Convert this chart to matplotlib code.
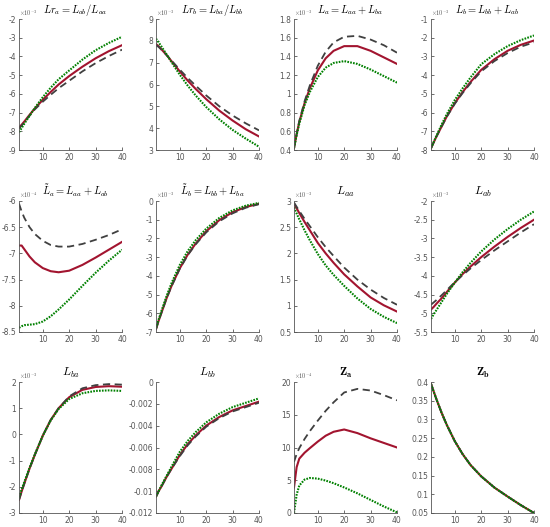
import matplotlib
matplotlib.use('Agg')
import matplotlib.pyplot as plt
from matplotlib.ticker import FuncFormatter

plt.rcParams['font.family'] = ['DejaVu Sans']
plt.rcParams['mathtext.fontset'] = 'cm'
plt.rcParams['axes.unicode_minus'] = False

x = [1, 2, 3, 5, 7, 10, 13, 16, 20, 25, 30, 35, 40]

# Lr_a (x1e-3)
lra_red = [-7.8, -7.65, -7.48, -7.12, -6.78, -6.32, -5.9, -5.5, -5.05, -4.55, -4.1, -3.72, -3.4]
lra_dash = [-7.85, -7.7, -7.52, -7.17, -6.83, -6.42, -6.05, -5.7, -5.3, -4.8, -4.36, -3.98, -3.64]
lra_green = [-8.05, -7.83, -7.6, -7.17, -6.75, -6.18, -5.67, -5.22, -4.75, -4.17, -3.67, -3.28, -2.95]
# Lr_b (x1e-3)
lrb_red = [7.85, 7.75, 7.62, 7.35, 7.05, 6.6, 6.18, 5.8, 5.33, 4.8, 4.35, 3.95, 3.62]
lrb_dash = [7.8, 7.72, 7.6, 7.35, 7.08, 6.68, 6.3, 5.95, 5.5, 5.0, 4.58, 4.22, 3.9]
lrb_green = [8.1, 7.93, 7.75, 7.38, 7.0, 6.45, 5.95, 5.5, 4.97, 4.4, 3.92, 3.52, 3.15]
# L_a (x1e-3)
la_red = [0.42, 0.57, 0.7, 0.9, 1.06, 1.25, 1.38, 1.46, 1.51, 1.51, 1.46, 1.39, 1.32]
la_dash = [0.42, 0.57, 0.71, 0.92, 1.09, 1.3, 1.45, 1.55, 1.61, 1.62, 1.58, 1.52, 1.44]
la_green = [0.42, 0.56, 0.68, 0.88, 1.02, 1.18, 1.28, 1.33, 1.35, 1.32, 1.26, 1.19, 1.12]
# L_b (x1e-3)
lb_red = [-7.9, -7.6, -7.3, -6.75, -6.2, -5.5, -4.9, -4.36, -3.72, -3.15, -2.7, -2.38, -2.15]
lb_dash = [-7.9, -7.6, -7.3, -6.75, -6.22, -5.53, -4.95, -4.43, -3.8, -3.25, -2.82, -2.48, -2.25]
lb_green = [-7.9, -7.58, -7.26, -6.65, -6.08, -5.33, -4.7, -4.12, -3.42, -2.88, -2.45, -2.13, -1.88]
# L~_a (x1e-4)
lta_red = [-6.85, -6.85, -6.92, -7.06, -7.17, -7.28, -7.34, -7.36, -7.33, -7.22, -7.08, -6.93, -6.78]
lta_dash = [-6.05, -6.2, -6.32, -6.5, -6.63, -6.76, -6.84, -6.87, -6.87, -6.82, -6.74, -6.65, -6.54]
lta_green = [-8.42, -8.39, -8.37, -8.36, -8.35, -8.3, -8.2, -8.07, -7.88, -7.62, -7.37, -7.14, -6.93]
# L~_b (x1e-3)
ltb_red = [-6.85, -6.4, -6.0, -5.2, -4.5, -3.6, -2.87, -2.28, -1.62, -1.02, -0.6, -0.32, -0.15]
ltb_dash = [-6.85, -6.4, -6.0, -5.2, -4.52, -3.62, -2.9, -2.32, -1.68, -1.08, -0.66, -0.36, -0.17]
ltb_green = [-6.8, -6.33, -5.9, -5.08, -4.35, -3.42, -2.68, -2.1, -1.48, -0.9, -0.5, -0.25, -0.1]
# L_aa (x1e-3)
laa_red = [2.95, 2.86, 2.77, 2.6, 2.44, 2.2, 2.0, 1.82, 1.6, 1.37, 1.16, 1.01, 0.89]
laa_dash = [2.97, 2.89, 2.81, 2.66, 2.52, 2.31, 2.12, 1.95, 1.73, 1.5, 1.31, 1.15, 1.02]
laa_green = [2.88, 2.76, 2.65, 2.44, 2.25, 1.99, 1.77, 1.59, 1.38, 1.14, 0.94, 0.79, 0.67]
# L_ab (x1e-3)
lab_red = [-4.9, -4.83, -4.75, -4.6, -4.43, -4.18, -3.95, -3.75, -3.5, -3.22, -2.96, -2.72, -2.5]
lab_dash = [-4.77, -4.71, -4.65, -4.52, -4.38, -4.17, -3.98, -3.8, -3.58, -3.32, -3.08, -2.84, -2.62]
lab_green = [-5.15, -5.03, -4.92, -4.7, -4.48, -4.18, -3.9, -3.65, -3.35, -3.03, -2.75, -2.5, -2.28]
# L_ba (x1e-3)
lba_red = [-2.5, -2.18, -1.88, -1.3, -0.78, -0.05, 0.55, 1.0, 1.42, 1.7, 1.81, 1.84, 1.82]
lba_dash = [-2.5, -2.18, -1.88, -1.3, -0.78, -0.05, 0.55, 1.0, 1.45, 1.76, 1.88, 1.92, 1.9]
lba_green = [-2.4, -2.1, -1.82, -1.27, -0.76, -0.05, 0.53, 0.97, 1.35, 1.57, 1.66, 1.68, 1.66]
# L_bb
lbb_red = [-0.0105, -0.0100, -0.0096, -0.0087, -0.0079, -0.0067, -0.0057, -0.0049, -0.0040, -0.0032, -0.0026, -0.0022, -0.0018]
lbb_dash = [-0.0105, -0.0100, -0.0096, -0.0087, -0.0079, -0.0068, -0.0058, -0.0050, -0.0041, -0.0033, -0.0027, -0.0023, -0.0019]
lbb_green = [-0.0105, -0.0100, -0.0095, -0.0086, -0.0077, -0.0064, -0.0054, -0.0046, -0.0037, -0.0029, -0.0023, -0.0019, -0.0015]
# Z_a (x1e-4)
za_red = [3.9, 7.0, 8.3, 9.2, 9.9, 10.9, 11.8, 12.4, 12.75, 12.2, 11.4, 10.7, 10.0]
za_dash = [7.8, 9.0, 9.9, 11.3, 12.5, 14.1, 15.6, 16.9, 18.4, 18.95, 18.7, 18.0, 17.2]
za_green = [0.0, 2.8, 4.2, 5.1, 5.35, 5.25, 4.95, 4.55, 3.9, 3.0, 2.0, 1.0, 0.1]
# Z_b
zb_red = [0.395, 0.375, 0.355, 0.318, 0.285, 0.242, 0.207, 0.178, 0.148, 0.118, 0.094, 0.071, 0.05]
zb_dash = zb_red
zb_green = zb_red

titles = [r'$Lr_a = L_{ab}/L_{aa}$', r'$Lr_b = L_{ba}/L_{bb}$',
          r'$L_a = L_{aa} + L_{ba}$', r'$L_b = L_{bb} + L_{ab}$',
          r'$\tilde{L}_a = L_{aa} + L_{ab}$', r'$\tilde{L}_b = L_{bb} + L_{ba}$',
          r'$L_{aa}$', r'$L_{ab}$', r'$L_{ba}$', r'$L_{bb}$',
          r'$\mathbf{Z}_{\mathbf{a}}$', r'$\mathbf{Z}_{\mathbf{b}}$']

# (red, dashed, green, exponent shown in corner, y limits, y tick step)
panels = [
    (lra_red, lra_dash, lra_green, -3, (-9, -2), 1),
    (lrb_red, lrb_dash, lrb_green, -3, (3, 9), 1),
    (la_red, la_dash, la_green, -3, (0.4, 1.8), 0.2),
    (lb_red, lb_dash, lb_green, -3, (-8, -1), 1),
    (lta_red, lta_dash, lta_green, -4, (-8.5, -6), 0.5),
    (ltb_red, ltb_dash, ltb_green, -3, (-7, 0), 1),
    (laa_red, laa_dash, laa_green, -3, (0.5, 3), 0.5),
    (lab_red, lab_dash, lab_green, -3, (-5.5, -2), 0.5),
    (lba_red, lba_dash, lba_green, -3, (-3, 2), 1),
    (lbb_red, lbb_dash, lbb_green, 0, (-0.012, 0), 0.002),
    (za_red, za_dash, za_green, -4, (0, 20), 5),
    (zb_red, zb_dash, zb_green, 0, (0.05, 0.4), 0.05),
]

red = '#a2142f'
gray = '#404040'
green = '#008000'
tick_color = '#555555'

fig = plt.figure(figsize=(5.5, 5.27), dpi=100)
lefts = [19, 156, 294, 431]
tops = [19, 201, 382]
w_px, h_px = 103, 131

for i, (yr, yd, yg, expo, ylim, step) in enumerate(panels):
    row, col = divmod(i, 4)
    ax = fig.add_axes([lefts[col] / 550, 1 - (tops[row] + h_px) / 527, w_px / 550, h_px / 527])
    ax.plot(x, yr, color=red, lw=1.5)
    ax.plot(x, yd, color=gray, lw=1.3, ls=(0, (4, 2.5)))
    ax.plot(x, yg, color=green, lw=1.5, ls=(0, (0.8, 0.6)))
    ax.set_xlim(1, 40)
    ax.set_xticks([10, 20, 30, 40])
    lo, hi = ylim
    ax.set_ylim(lo, hi)
    n = int(round((hi - lo) / step))
    ax.set_yticks([lo + k * step for k in range(n + 1)])
    ax.yaxis.set_major_formatter(FuncFormatter(lambda v, p: '%g' % round(v, 6)))
    if expo != 0:
        ax.text(0.0, 1.005, r'$\times10^{%d}$' % expo, transform=ax.transAxes,
                ha='left', va='bottom', fontsize=4.5, color=tick_color)
    for s in ['top', 'right']:
        ax.spines[s].set_visible(False)
    for s in ['left', 'bottom']:
        ax.spines[s].set_color(tick_color)
        ax.spines[s].set_linewidth(0.6)
    ax.tick_params(direction='in', length=2, width=0.6, labelsize=5.5, colors=tick_color, pad=2)
    size = 7.5 if i < 6 else 8.5
    t = ax.set_title(titles[i], fontsize=size, pad=4)
    if i < 6:
        t.set_x(0.55)

fig.savefig('out.png', dpi=100)
